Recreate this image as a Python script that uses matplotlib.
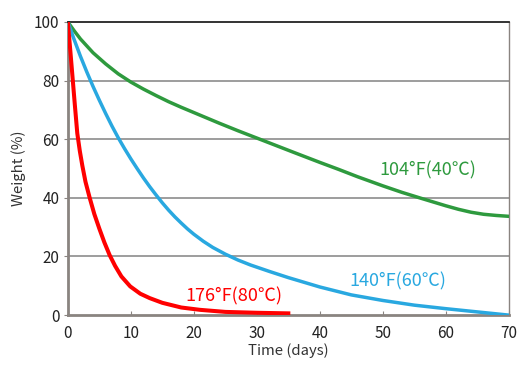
import matplotlib.pyplot as plt

plt.rcParams['font.family'] = ['Noto Sans CJK JP', 'DejaVu Sans']

# curves (days, weight %)
red_x = [0, 0.4, 0.79, 1.1, 1.5, 1.9, 2.3, 2.8, 3.47, 4.2, 5, 5.8, 6.63, 7.5, 8.5,
         9.9, 11.5, 13, 15, 18, 21, 25, 30, 35]
red_y = [100, 90, 80, 72, 62, 56, 51, 45.5, 40, 34.5, 29.5, 24.8, 20.5, 16.8, 13.2,
         9.8, 7.3, 5.8, 4.2, 2.6, 1.8, 1.1, 0.8, 0.6]

blue_x = [0, 1, 2, 3, 4, 5, 6, 7, 8, 9, 10, 11, 12, 13, 14, 15, 16, 17, 18, 19, 20,
          21.5, 23, 25, 27, 29, 32, 35, 40, 45, 50, 55, 60, 65, 70]
blue_y = [100, 94, 88.3, 83, 78, 73.3, 68.8, 64.5, 60.5, 56.8, 53.3, 50, 46.8, 43.8,
          41, 38.3, 35.8, 33.5, 31.4, 29.4, 27.6, 25.2, 23.1, 20.8, 18.8, 17.1, 14.9,
          12.8, 9.6, 6.9, 5.0, 3.4, 2.2, 1.1, 0]

green_x = [0, 1, 2, 4, 6, 8, 10, 12, 14, 16, 18, 20, 22, 24, 27, 30, 33, 36, 40, 43,
           46, 50, 53, 56, 58, 60, 62, 64, 66, 68, 70]
green_y = [100, 97, 94.2, 89.5, 85.7, 82.3, 79.5, 77.1, 74.9, 72.8, 70.9, 69.1, 67.3,
           65.5, 62.9, 60.4, 57.9, 55.4, 52.1, 49.7, 47.2, 44.1, 41.9, 39.9, 38.6,
           37.3, 36.1, 35.1, 34.4, 34.0, 33.7]

labels = ['176°F(80℃)', '140°F(60℃)', '104°F(40℃)']
xticks = [0, 10, 20, 30, 40, 50, 60, 70]
yticks = [0, 20, 40, 60, 80, 100]

red = '#ff0000'
blue = '#29a8e0'
green = '#2e9a3e'

fig = plt.figure(figsize=(5.3, 3.66), dpi=100)
ax = fig.add_axes([0.128, 0.139, 0.832, 0.801])

for y in [20, 40, 60, 80]:
    ax.axhline(y, color='#8c8c8c', lw=1.2, zorder=1)

ax.plot(green_x, green_y, color=green, lw=2.5, zorder=3, solid_joinstyle='round')
ax.plot(blue_x, blue_y, color=blue, lw=2.5, zorder=3, solid_joinstyle='round')
ax.plot(red_x, red_y, color=red, lw=2.9, zorder=4, solid_joinstyle='round')

ax.text(57.2, 49.5, labels[2], color=green, fontsize=13, ha='center', va='center')
ax.text(52.4, 11.4, labels[1], color=blue, fontsize=13, ha='center', va='center')
ax.text(26.3, 6.3, labels[0], color=red, fontsize=13, ha='center', va='center')

ax.set_xlim(0, 70)
ax.set_ylim(0, 100)
ax.set_xticks(xticks)
ax.set_yticks(yticks)
ax.tick_params(axis='x', direction='in', length=3, color='#8a8480', labelsize=11,
               labelcolor='#222222', pad=7)
ax.tick_params(axis='y', direction='out', length=3, color='#8a8480', labelsize=11,
               labelcolor='#222222', pad=3)
ax.set_xlabel('Time (days)', fontsize=10.7, color='#333333', labelpad=1)
ax.set_ylabel('Weight (%)', fontsize=10.7, color='#333333', labelpad=6)

ax.spines['left'].set_color('#8a8480')
ax.spines['left'].set_linewidth(2)
ax.spines['bottom'].set_color('#8a8480')
ax.spines['bottom'].set_linewidth(2)
ax.spines['right'].set_color('#8a8480')
ax.spines['right'].set_linewidth(1)
ax.spines['top'].set_color('#111111')
ax.spines['top'].set_linewidth(1.2)

fig.savefig('out.png', dpi=100)
